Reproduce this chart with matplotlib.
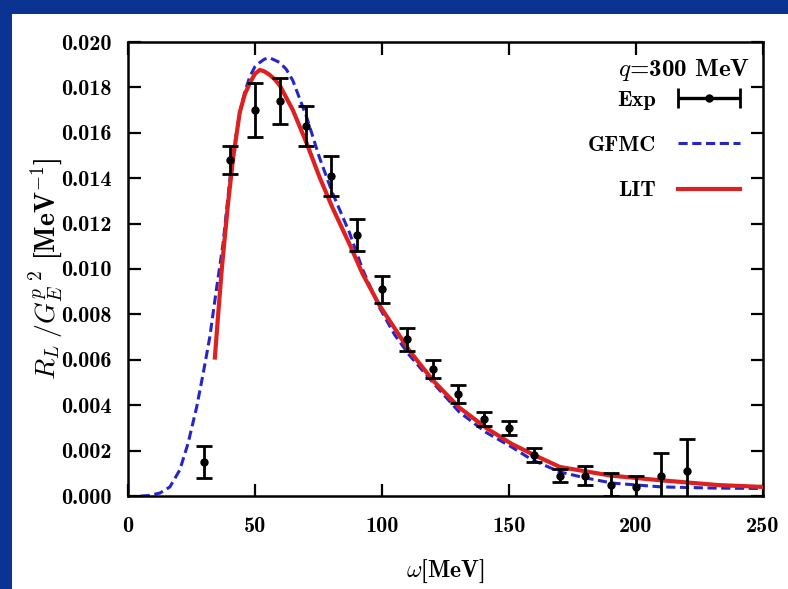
import matplotlib
matplotlib.use("Agg")
import numpy as np
import matplotlib.pyplot as plt
from matplotlib.patches import Rectangle
from matplotlib.ticker import FormatStrFormatter, MultipleLocator
from matplotlib.legend_handler import HandlerErrorbar

# longitudinal response at q = 300 MeV
exp_w = [30, 40, 50, 60, 70, 80, 90, 100, 110, 120, 130, 140, 150, 160, 170, 180, 190, 200, 210, 220]
exp_r = [0.0015, 0.0148, 0.0170, 0.0174, 0.0163, 0.0141, 0.0115, 0.0091, 0.0069, 0.0056,
         0.0045, 0.0034, 0.0030, 0.0018, 0.0009, 0.0009, 0.0005, 0.0004, 0.0009, 0.0011]
exp_err = [0.0007, 0.0006, 0.0012, 0.0010, 0.0009, 0.0009, 0.0007, 0.0006, 0.0005, 0.0004,
           0.0004, 0.0003, 0.0003, 0.0003, 0.0003, 0.0004, 0.0005, 0.0005, 0.0010, 0.0014]

gfmc_w = [5, 8, 12.6, 16.5, 20.4, 23.6, 27, 29.6, 32.2, 34.8, 37.4, 40.8, 44, 46, 47.9, 49.9,
          51.9, 53.8, 55.8, 57.8, 59.7, 62.3, 64.9, 70.3, 75.4, 80.5, 87.2, 92.3, 99, 105,
          110.8, 120, 130.4, 141, 151, 159, 170, 180, 190.6, 210, 230, 250]
gfmc_r = [0, 0.00002, 0.00013, 0.0004, 0.00115, 0.0023, 0.0039, 0.0054, 0.0070, 0.0091, 0.0111,
          0.0147, 0.0169, 0.0178, 0.01846, 0.0189, 0.0191, 0.01925, 0.0193, 0.0192, 0.0191,
          0.0188, 0.0183, 0.0167, 0.0149, 0.01335, 0.0116, 0.0100, 0.0083, 0.0071, 0.0062,
          0.0050, 0.0037, 0.0028, 0.00216, 0.0016, 0.00106, 0.0008, 0.00057, 0.0004, 0.00035,
          0.00033]

lit_w = [34.2, 35.5, 37, 39.4, 41.4, 44, 46, 48, 50, 51.9, 53.8, 55.8, 57.8, 59.7, 64.9, 70.3,
         75.4, 80.5, 87.2, 92.3, 99, 110.8, 120, 130.4, 141, 151, 160, 170, 190, 209, 232.6, 250]
lit_r = [0.0061, 0.0080, 0.0101, 0.0129, 0.0149, 0.0169, 0.0177, 0.0182, 0.0186, 0.01877,
         0.0187, 0.01855, 0.01835, 0.0181, 0.0170, 0.01555, 0.01405, 0.0127, 0.0111, 0.0098,
         0.0084, 0.0064, 0.0051, 0.0039, 0.0030, 0.0023, 0.0018, 0.00128, 0.0009, 0.0007,
         0.00048, 0.0004]

plt.rcParams['font.family'] = ['cmb10', 'DejaVu Serif']
plt.rcParams['mathtext.fontset'] = 'cm'
plt.rcParams['axes.unicode_minus'] = False

fig = plt.figure(figsize=(7.88, 5.89), dpi=100)
fig.patch.set_facecolor('#0b3391')
# white slide panel
fig.add_artist(Rectangle((12 / 788, 0), 1, 1 - 14 / 589, transform=fig.transFigure,
                         facecolor='white', edgecolor='none', zorder=0))

ax = fig.add_axes([128 / 788, 93 / 589, 635 / 788, 454 / 589])
ax.set_facecolor('white')

gfmc_line, = ax.plot(gfmc_w, gfmc_r, color='#2626c8', lw=2.2, dashes=(3, 1.5), zorder=2)
lit_line, = ax.plot(lit_w, lit_r, color='#dd2020', lw=3.0, zorder=3)
ax.errorbar(exp_w, exp_r, yerr=exp_err, fmt='o', color='black', ms=5, elinewidth=2,
            capsize=6, capthick=2, zorder=4)

# horizontal error bar used only as the legend key
exp_key = ax.errorbar([np.nan], [np.nan], xerr=[1], fmt='o', color='black', ms=5,
                      elinewidth=2.4, capsize=7, capthick=2)

ax.set_xlim(0, 250)
ax.set_ylim(0, 0.020)
ax.xaxis.set_major_locator(MultipleLocator(50))
ax.yaxis.set_major_locator(MultipleLocator(0.002))
ax.yaxis.set_major_formatter(FormatStrFormatter('%.3f'))
ax.tick_params(direction='in', length=9, width=1.6, top=True, right=True, labelsize=16)
ax.tick_params(axis='x', pad=15)
ax.tick_params(axis='y', pad=12)
for s in ax.spines.values():
    s.set_linewidth(1.8)

ax.set_xlabel(r'$\omega$[MeV]', fontsize=17, labelpad=16)
ax.set_ylabel(r'$R_L\;/G_E^{p\;\,2}$ [MeV$^{-1}$]', fontsize=20, labelpad=-2)

ax.text(0.98, 0.938, r'$q$=300 MeV', transform=ax.transAxes, ha='right', va='center',
        fontsize=18)
ax.legend([exp_key, gfmc_line, lit_line], ['Exp', 'GFMC', 'LIT'],
          loc='upper right', bbox_to_anchor=(0.964, 0.893), frameon=False,
          markerfirst=False, fontsize=16, handlelength=2.8, handletextpad=1.0,
          labelspacing=1.15, borderpad=0, borderaxespad=0,
          handler_map={type(exp_key): HandlerErrorbar(xerr_size=1.4)})

fig.savefig('out.png', dpi=100, facecolor=fig.get_facecolor())
